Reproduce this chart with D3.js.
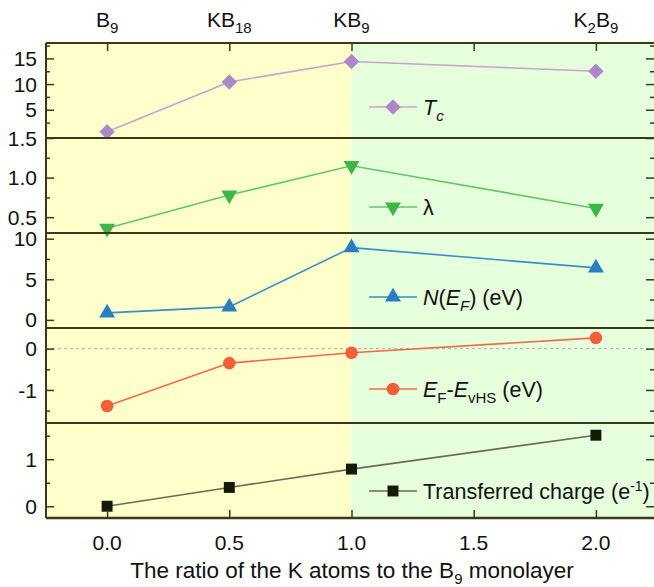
<!DOCTYPE html>
<html>
<head>
<meta charset="utf-8">
<script src="https://cdn.jsdelivr.net/npm/d3@7"></script>
<style>
  body { margin: 0; background: #fff; }
  text { font-family: "Liberation Sans", Arial, sans-serif; fill: #111; }
</style>
</head>
<body>
<div class="chart"></div>
<script>
// data
var ratios = [0, 0.5, 1, 2];
var compounds = [["B", "9"], ["KB", "18"], ["KB", "9"], ["K", "2", "B", "9"]];
var tcValues = [0.7, 10.4, 14.4, 12.5];
var lambdaValues = [0.36, 0.78, 1.15, 0.61];
var dosValues = [0.86, 1.6, 8.9, 6.4];
var evhsValues = [-1.39, -0.35, -0.1, 0.26];
var chargeValues = [0, 0.4, 0.79, 1.51];
var xTicks = [0, 0.5, 1, 1.5, 2];

var width = 654, height = 587;
var plotLeft = 46, plotRight = 657, plotTop = 43, panelH = 95;
var edge = 654;

var svg = d3.select(".chart").append("svg")
	.attr("width", width)
	.attr("height", height);

var x = d3.scaleLinear().domain([-0.25, 2.25]).range([plotLeft, plotRight]);
var plotBottom = plotTop + panelH * 5;

// background zones
svg.append("rect")
	.attr("x", x(-0.25)).attr("y", plotTop)
	.attr("width", x(1) - x(-0.25)).attr("height", plotBottom - plotTop)
	.attr("fill", "#ffffcc");
svg.append("rect")
	.attr("x", x(1)).attr("y", plotTop)
	.attr("width", x(2.25) - x(1)).attr("height", plotBottom - plotTop)
	.attr("fill", "#e6ffdd");

var intFmt = function(d) { return String(d); };

var panels = [
	{values: tcValues, domain: [-0.5, 18], major: [5, 10, 15], minor: [2.5, 7.5, 12.5, 17.5],
	 fmt: intFmt, line: "#c9a0d2", fill: "#ad88c9", symbol: d3.symbolSquare, size: 120, rot: 45, legend: "tc"},
	{values: lambdaValues, domain: [0.3, 1.5], major: [0.5, 1.0, 1.5], minor: [0.75, 1.25],
	 fmt: d3.format(".1f"), line: "#5ec965", fill: "#3db54a", symbol: d3.symbolTriangle, size: 110, rot: 180, legend: "lambda"},
	{values: dosValues, domain: [-1, 10.7], major: [0, 5, 10], minor: [2.5, 7.5],
	 fmt: intFmt, line: "#3a8dc8", fill: "#2a7fc0", symbol: d3.symbolTriangle, size: 110, rot: 0, legend: "dos"},
	{values: evhsValues, domain: [-1.8, 0.5], major: [-1, 0], minor: [-1.5, -0.5],
	 fmt: intFmt, line: "#f26a45", fill: "#f1603a", symbol: d3.symbolCircle, size: 125, rot: 0, legend: "evhs"},
	{values: chargeValues, domain: [-0.25, 1.77], major: [0, 1], minor: [0.5, 1.5],
	 fmt: intFmt, line: "#6a6a55", fill: "#121a0a", symbol: d3.symbolSquare, size: 120, rot: 0, legend: "charge"}
];

var legendY = [107, 207, 297, 389, 491];

panels.forEach(function(p, i) {
	var y0 = plotTop + i * panelH;
	var y = d3.scaleLinear().domain(p.domain).range([y0 + panelH, y0]);
	var g = svg.append("g");

	// zero reference line for the vHS panel
	if (p.legend === "evhs") {
		g.append("line")
			.attr("x1", plotLeft).attr("x2", edge)
			.attr("y1", y(0)).attr("y2", y(0))
			.attr("stroke", "#999").attr("stroke-width", 0.8)
			.attr("stroke-dasharray", "3,3");
	}

	// left and right axes with inward ticks
	var axes = [
		[d3.axisRight(y).tickValues(p.major).tickSize(8), plotLeft],
		[d3.axisRight(y).tickValues(p.minor).tickSize(4), plotLeft],
		[d3.axisLeft(y).tickValues(p.major).tickSize(8), edge],
		[d3.axisLeft(y).tickValues(p.minor).tickSize(4), edge]
	];
	axes.forEach(function(a) {
		var ag = g.append("g").attr("transform", "translate(" + a[1] + ",0)")
			.call(a[0].tickFormat(""));
		ag.select(".domain").remove();
		ag.selectAll("line").attr("stroke", "#3a3a1a").attr("stroke-width", 1.5);
	});
	g.selectAll(".ylab")
		.data(p.major)
		.enter().append("text")
			.attr("x", plotLeft - 9)
			.attr("y", function(d) { return y(d); })
			.attr("dy", "0.36em")
			.attr("text-anchor", "end")
			.attr("font-size", "21px")
			.text(function(d) { return p.fmt(d); });

	// series
	var lineGen = d3.line()
		.x(function(d, j) { return x(ratios[j]); })
		.y(function(d) { return y(d); });
	g.append("path")
		.datum(p.values)
		.attr("d", lineGen)
		.attr("fill", "none")
		.attr("stroke", p.line)
		.attr("stroke-width", 1.6);
	var sym = d3.symbol().type(p.symbol).size(p.size);
	g.selectAll(".pt")
		.data(p.values)
		.enter().append("path")
			.attr("d", sym)
			.attr("transform", function(d, j) {
				return "translate(" + x(ratios[j]) + "," + y(d) + ") rotate(" + p.rot + ")";
			})
			.attr("fill", p.fill);

	// legend
	var ly = legendY[i];
	g.append("line")
		.attr("x1", 369).attr("x2", 417)
		.attr("y1", ly).attr("y2", ly)
		.attr("stroke", p.line).attr("stroke-width", 1.6);
	g.append("path")
		.attr("d", sym)
		.attr("transform", "translate(393," + ly + ") rotate(" + p.rot + ")")
		.attr("fill", p.fill);
	var t = g.append("text")
		.attr("x", 423).attr("y", ly)
		.attr("dy", "0.36em")
		.attr("font-size", "21.5px");
	if (p.legend === "tc") {
		t.append("tspan").attr("font-style", "italic").text("T");
		t.append("tspan").attr("font-style", "italic").attr("font-size", "15px").attr("dy", "6").text("c");
	} else if (p.legend === "lambda") {
		t.text("\u03bb");
	} else if (p.legend === "dos") {
		t.append("tspan").attr("font-style", "italic").text("N");
		t.append("tspan").text("(");
		t.append("tspan").attr("font-style", "italic").text("E");
		t.append("tspan").attr("font-style", "italic").attr("font-size", "15px").attr("dy", "6").text("F");
		t.append("tspan").attr("dy", "-6").text(") (eV)");
	} else if (p.legend === "evhs") {
		t.append("tspan").attr("font-style", "italic").text("E");
		t.append("tspan").attr("font-size", "15px").attr("dy", "6").text("F");
		t.append("tspan").attr("dy", "-6").text("-");
		t.append("tspan").attr("font-style", "italic").text("E");
		t.append("tspan").attr("font-size", "15px").attr("dy", "6").text("vHS");
		t.append("tspan").attr("dy", "-6").text(" (eV)");
	} else {
		t.append("tspan").text("Transferred charge (e");
		t.append("tspan").attr("font-size", "14px").attr("dy", "-8").text("-1");
		t.append("tspan").attr("dy", "8").text(")");
	}

	// panel separator
	if (i > 0) {
		svg.append("line")
			.attr("x1", plotLeft).attr("x2", edge)
			.attr("y1", y0).attr("y2", y0)
			.attr("stroke", "#3a3a1a").attr("stroke-width", 2);
	}
});

// top and bottom x axes with inward ticks
var topAxis = svg.append("g").attr("transform", "translate(0," + plotTop + ")")
	.call(d3.axisBottom(x).tickValues(xTicks).tickSize(8).tickFormat(""));
var botAxis = svg.append("g").attr("transform", "translate(0," + plotBottom + ")")
	.call(d3.axisTop(x).tickValues(xTicks).tickSize(8).tickFormat(""));
[topAxis, botAxis].forEach(function(a) {
	a.select(".domain").remove();
	a.selectAll("line").attr("stroke", "#3a3a1a").attr("stroke-width", 1.5);
});

// frame
svg.append("line").attr("x1", plotLeft).attr("x2", edge).attr("y1", plotTop).attr("y2", plotTop)
	.attr("stroke", "#3a3a1a").attr("stroke-width", 2);
svg.append("line").attr("x1", plotLeft).attr("x2", edge).attr("y1", plotBottom).attr("y2", plotBottom)
	.attr("stroke", "#3a3a1a").attr("stroke-width", 2.5);
svg.append("line").attr("x1", plotLeft).attr("x2", plotLeft).attr("y1", plotTop).attr("y2", plotBottom)
	.attr("stroke", "#3a3a1a").attr("stroke-width", 2);

// bottom tick labels
svg.selectAll(".xlab")
	.data(xTicks)
	.enter().append("text")
		.attr("x", function(d) { return x(d); })
		.attr("y", plotBottom + 32)
		.attr("text-anchor", "middle")
		.attr("font-size", "21px")
		.text(function(d) { return d3.format(".1f")(d); });

// compound labels on top
var comp = svg.selectAll(".comp")
	.data(compounds)
	.enter().append("text")
		.attr("x", function(d, i) { return x(ratios[i]); })
		.attr("y", 27)
		.attr("text-anchor", "middle")
		.attr("font-size", "21px");
comp.each(function(d) {
	var el = d3.select(this);
	d.forEach(function(part, k) {
		var ts = el.append("tspan").text(part);
		if (k % 2 === 1) ts.attr("font-size", "15px").attr("dy", "6");
		else if (k > 0) ts.attr("dy", "-6");
	});
});

// x axis title
var title = svg.append("text")
	.attr("x", 352).attr("y", 578)
	.attr("text-anchor", "middle")
	.attr("font-size", "22.5px");
title.append("tspan").text("The ratio of the K atoms to the B");
title.append("tspan").attr("font-size", "15px").attr("dy", "6").text("9");
title.append("tspan").attr("dy", "-6").text(" monolayer");
</script>
</body>
</html>
